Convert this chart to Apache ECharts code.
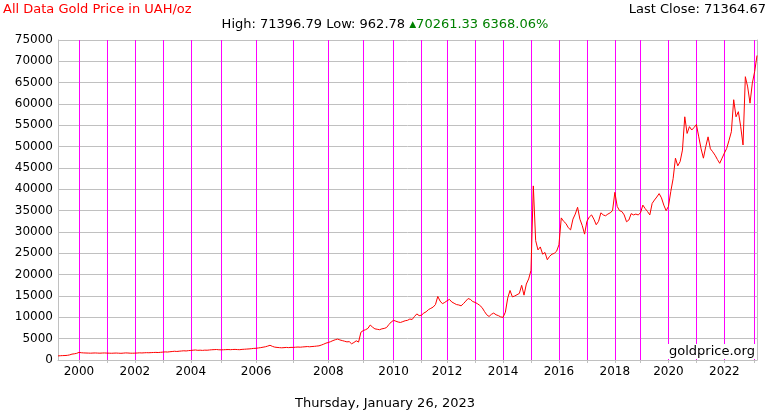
<!DOCTYPE html>
<html>
<head>
<meta charset="utf-8">
<script src="https://cdn.jsdelivr.net/npm/echarts@6/dist/echarts.min.js"></script>
<style>
  html, body { margin: 0; padding: 0; background: #fff; }
  #chart { width: 770px; height: 410px; }
</style>
</head>
<body>
<div id="chart"></div>
<script>
// price samples per year (UAH/oz); the source chart is
// plotted by sample index, so busier years simply have more samples
var y1999 = [963, 1000, 1030, 1050, 1090, 1200, 1380, 1450, 1560];
var y2000 = [1780, 1700, 1660, 1640, 1620, 1600, 1630, 1650, 1620, 1600, 1630, 1650];
var y2001 = [1620, 1600, 1580, 1610, 1630, 1600, 1570, 1610, 1660, 1640, 1600, 1590];
var y2002 = [1610, 1640, 1680, 1650, 1690, 1720, 1700, 1730, 1760, 1780, 1750, 1800];
var y2003 = [1850, 1900, 1870, 1930, 1990, 2050, 2000, 2060, 2110, 2160, 2120, 2200];
var y2004 = [2240, 2300, 2350, 2270, 2300, 2250, 2310, 2290, 2350, 2400, 2430, 2460, 2400];
var y2005 = [2380, 2400, 2430, 2450, 2420, 2460, 2480, 2440, 2420, 2490, 2520, 2560, 2600, 2650, 2720];
var y2006 = [2750, 2820, 2900, 3000, 3100, 3260, 3450, 3200, 3020, 2950, 2900, 2860, 2900, 2950, 2900, 2960];
var y2007 = [2950, 3000, 3040, 3000, 3060, 3100, 3150, 3100, 3160, 3200, 3260, 3320, 3500, 3700, 3950];
var y2008 = [4100, 4300, 4550, 4750, 4900, 4700, 4550, 4400, 4250, 4300, 3800, 4100, 4500, 4200, 6500];
var y2009 = [6900, 7100, 7400, 8200, 7700, 7300, 7200, 7100, 7300, 7400, 7600, 8300, 8900];
var y2010 = [9300, 9100, 8900, 8800, 9000, 9200, 9300, 9600, 9500, 10200, 10800, 10400];
var y2011 = [10500, 11000, 11300, 11800, 12100, 12400, 13000, 14900, 13800, 13200, 13500];
var y2012 = [13900, 14200, 13600, 13300, 13000, 12900, 12700, 13200, 13800, 14400, 14200, 13700];
var y2013 = [13500, 13200, 12800, 12300, 11400, 10600, 10200, 10700, 11000, 10600, 10400, 10100];
var y2014 = [10000, 11200, 14500, 16300, 14800, 15000, 15300, 15600, 17500, 15200, 17800, 19000];
var y2015 = [21000, 40800, 28000, 25800, 26500, 24800, 25200, 23500, 24300, 24800, 25000, 25500];
var y2016 = [27000, 33300, 32500, 32000, 31000, 30500, 33000, 34200, 35800, 33000, 31500, 29500];
var y2017 = [32500, 33500, 34000, 33000, 31700, 32500, 34500, 34000, 33800, 34200, 34500, 35000];
var y2018 = [39300, 36000, 35000, 34800, 34000, 32400, 32800, 34300, 34000, 34200, 34000];
var y2019 = [34500, 36300, 35500, 34800, 34000, 36700, 37500, 38200, 39000, 38000, 36300, 35000];
var y2020 = [36000, 39500, 42500, 47300, 45500, 46500, 49200, 57000, 53100, 54700, 53900, 54500];
var y2021 = [55200, 52300, 49500, 47300, 50000, 52300, 49500, 48800, 48000, 47000, 46100, 47300];
var y2022 = [48500, 49600, 51500, 53500, 61000, 57000, 58200, 54700, 50400, 66400, 64000, 60200, 64900];
var y2023 = [67600, 71364.67];

var years = [1999, 2000, 2001, 2002, 2003, 2004, 2005, 2006, 2007, 2008, 2009, 2010,
             2011, 2012, 2013, 2014, 2015, 2016, 2017, 2018, 2019, 2020, 2021, 2022, 2023];
var yearValues = [y1999, y2000, y2001, y2002, y2003, y2004, y2005, y2006, y2007, y2008,
                  y2009, y2010, y2011, y2012, y2013, y2014, y2015, y2016, y2017, y2018,
                  y2019, y2020, y2021, y2022, y2023];

var titleText = 'All Data Gold Price in UAH/oz';
var lastClose = 'Last Close: 71364.67';
var highLow = 'High: 71396.79 Low: 962.78 ';
var change = '70261.33 6368.06%';
var dateText = 'Thursday, January 26, 2023';

// categories: first sample of a year is named by the year, the rest yyyy-n
var cats = [];
var prices = [];
years.forEach(function (yr, i) {
    yearValues[i].forEach(function (v, j) {
        cats.push(j === 0 && i > 0 ? String(yr) : yr + '-' + j);
        prices.push(v);
    });
});

var font = 'DejaVu Sans';
var gridColor = '#c0c0c0';
function isYearStart(idx, value) {
    return String(value).indexOf('-') < 0;
}

var chart = echarts.init(document.getElementById('chart'));
chart.setOption({
    animation: false,
    backgroundColor: '#fff',
    title: [{
        text: titleText, left: 3, top: 3, padding: 0,
        textStyle: {color: '#ff0000', fontSize: 13, fontWeight: 'normal', fontFamily: font}
    }, {
        text: lastClose, right: 4, top: 3, padding: 0,
        textStyle: {color: '#000', fontSize: 13, fontWeight: 'normal', fontFamily: font}
    }, {
        text: '{k|' + highLow + '}{up|▲}{g|' + change + '}',
        left: 'center', top: 18, padding: 0,
        textStyle: {
            fontSize: 13, fontFamily: font, fontWeight: 'normal',
            rich: {
                k: {color: '#000', fontSize: 13, fontFamily: font, fontWeight: 'normal'},
                up: {color: '#008000', fontSize: 9, fontFamily: font, fontWeight: 'normal'},
                g: {color: '#008000', fontSize: 13, fontFamily: font, fontWeight: 'normal'}
            }
        }
    }, {
        text: dateText, left: 'center', top: 397, padding: 0,
        textStyle: {color: '#000', fontSize: 13, fontWeight: 'normal', fontFamily: font}
    }],
    grid: {
        left: 58, right: 13, top: 40, bottom: 50
    },
    xAxis: {
        type: 'category',
        data: cats,
        boundaryGap: false,
        axisLine: {lineStyle: {color: gridColor}},
        axisTick: {show: true, interval: isYearStart, length: 3,
                   lineStyle: {color: gridColor, width: 1}},
        splitLine: {show: true, interval: isYearStart,
                    lineStyle: {color: '#ff00ff', width: 1}},
        axisLabel: {
            interval: function (idx, value) {
                return isYearStart(idx, value) && Number(value) % 2 === 0;
            },
            color: '#000', fontSize: 12, fontFamily: font, margin: 6
        }
    },
    yAxis: [{
        type: 'value',
        min: 0, max: 75000, interval: 5000,
        axisLine: {show: true, lineStyle: {color: gridColor}},
        axisTick: {show: false},
        splitLine: {lineStyle: {color: gridColor, width: 1}},
        axisLabel: {
            color: '#000', fontSize: 12, fontFamily: font, margin: 5,
            formatter: function (v) { return String(v); }
        }
    }, {
        // right-hand frame edge only
        type: 'value',
        min: 0, max: 75000, interval: 5000,
        position: 'right',
        axisLine: {show: true, lineStyle: {color: gridColor}},
        axisTick: {show: false},
        axisLabel: {show: false},
        splitLine: {show: false}
    }],
    graphic: [{
        type: 'text', left: 667, top: 344, z: 1,
        style: {
            text: 'goldprice.org', fill: '#000', font: '13px "DejaVu Sans"',
            backgroundColor: '#fff', padding: [1, 2, 1, 2]
        }
    }],
    series: [{
        type: 'line',
        data: prices,
        showSymbol: false,
        symbol: 'none',
        lineStyle: {color: '#ff0000', width: 1},
        z: 3
    }]
});
</script>
</body>
</html>
